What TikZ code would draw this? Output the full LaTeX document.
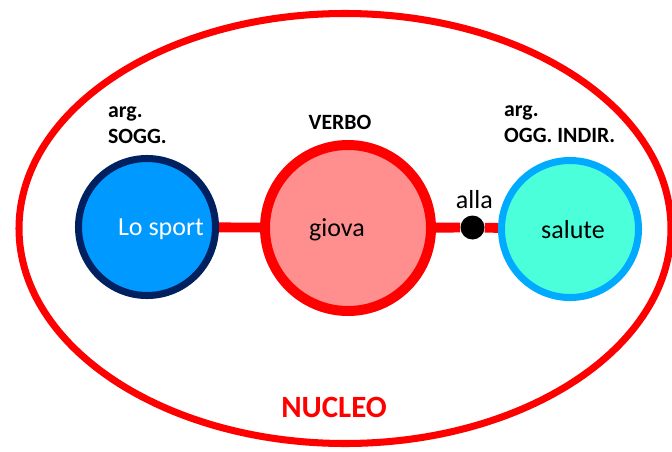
\documentclass[tikz,border=0pt]{standalone}
\usepackage{fontspec}
\setmainfont{Carlito}
\usetikzlibrary{shapes,backgrounds,calc}

\definecolor{navy}{HTML}{002060}
\definecolor{sportblue}{HTML}{0099FF}
\definecolor{giovapink}{HTML}{FF8F8F}
\definecolor{skyline}{HTML}{00AAFF}
\definecolor{aqua}{HTML}{4BFFDA}

\tikzset{
	argo/.style={circle, minimum size=3.425cm, line width=5pt, inner sep=0pt},
	verbcirc/.style={circle, minimum size=4.15cm, line width=7.1pt, draw=red, fill=giovapink, inner sep=0pt},
	link/.style={draw=red, line width=7pt},
	word/.style={font=\fontsize{18.5}{22}\selectfont},
	tag/.style={font=\fontsize{15.5}{18.5}\selectfont\bfseries, align=left}
}

\begin{document}
\begin{tikzpicture}
		\useasboundingbox (0,0) rectangle (16.8,11.275);
		
		\draw[red, line width=5pt] (8.625,5.5625) ellipse (8.15cm and 5.375cm);
		
		\node[tag, anchor=west] (sogg) at (2.58,8.15) {arg.\\SOGG.};
		\node[tag] (verbo) at (8.5,8.225) {VERBO};
		\node[tag, anchor=west] (oggind) at (12.48,8.175) {arg.\\OGG. INDIR.};
		
		
		\node[argo, draw=navy, fill=sportblue] (sport) at (3.675,5.6) {};
		\node[verbcirc] (giova) at (8.7,5.575) {};
		\node[argo, draw=skyline, fill=aqua] (salute) at (14.25,5.55) {};
		
		\node[circle, fill=black, minimum size=0.6cm, inner sep=0pt] (dot) at (11.8125,5.5875) {};
		
		\begin{pgfonlayer}{background}
			\draw[link] (sport) -- (giova);
			\draw[link] (giova) -- (dot) -- (salute);
		\end{pgfonlayer}
		
		
		\node[word, text=white] (sporttxt) at (4.025,5.55) {Lo sport};
		\node[word] (giovatxt) at (8.425,5.525) {giova};
		\node[word] (salutetxt) at (14.325,5.525) {salute};
		\node[word] (alla) at (11.86,6.275) {alla};
		
		
		\node[text=red, font=\fontsize{22}{26}\selectfont\bfseries] (nucleo) at (8.35,1.09) {NUCLEO};
	
	\end{tikzpicture}
\end{document}
